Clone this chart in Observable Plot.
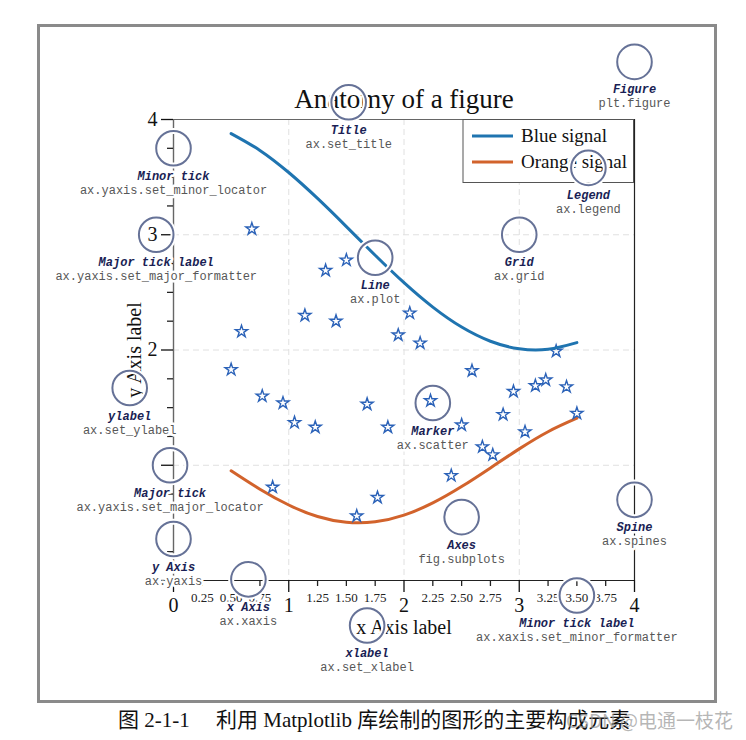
<!DOCTYPE html>
<html>
<head>
<meta charset="utf-8">
<script src="https://cdn.jsdelivr.net/npm/d3@7"></script>
<script src="https://cdn.jsdelivr.net/npm/@observablehq/plot@0.6"></script>
<style>
  html, body { margin: 0; padding: 0; background: #fff; }
  #wrap { position: relative; width: 746px; height: 740px; overflow: hidden; }
  #border { position: absolute; left: 37px; top: 24px; width: 674px; height: 673px; border: 3px solid #8a8a8a; }
  #chart { position: absolute; left: 0; top: 0; }
  #caption { position: absolute; left: 118px; top: 706px; line-height: 28px; font-size: 21px;
             font-family: "Liberation Serif", "Noto Sans CJK SC", serif; color: #111; white-space: nowrap; }
  #mark { position: absolute; left: 566px; top: 706px; line-height: 28px; font-size: 19px;
          font-family: "Noto Sans CJK SC", sans-serif; color: rgba(150,150,150,0.7); white-space: nowrap; }
</style>
</head>
<body>
<div id="wrap">
  <div id="border"></div>
  <div id="chart"></div>
  <div id="caption"></div>
  <div id="mark"></div>
</div>
<script>
// ---- data ----
const titleText = "Anatomy of a figure";
const xLabelText = "x Axis label";
const yLabelText = "y Axis label";
const seriesNames = ["Blue signal", "Orange signal"];
const seriesColors = ["#1f74b0", "#d2632c"];

const lineX = [0.5, 0.75, 1.0, 1.25, 1.5, 1.75, 2.0, 2.25, 2.5, 2.75, 3.0, 3.25, 3.5];
const blueY = [3.878, 3.732, 3.540, 3.315, 3.071, 2.822, 2.584, 2.372, 2.199, 2.076, 2.010, 2.006, 2.064];
const orangeY = [0.952, 0.792, 0.655, 0.555, 0.505, 0.509, 0.567, 0.673, 0.815, 0.977, 1.142, 1.291, 1.408];

const starX = [0.50, 0.59, 0.68, 0.77, 0.86, 0.95, 1.05, 1.14, 1.23, 1.32, 1.41, 1.50, 1.59, 1.68, 1.77, 1.86, 1.95,
               2.05, 2.14, 2.23, 2.41, 2.50, 2.59, 2.68, 2.77, 2.86, 2.95, 3.05, 3.14, 3.23, 3.32, 3.41, 3.50];
const starY = [1.83, 2.16, 3.05, 1.60, 0.81, 1.54, 1.37, 2.30, 1.33, 2.69, 2.25, 2.78, 0.56, 1.53, 0.72, 1.33, 2.13,
               2.32, 2.06, 1.56, 0.91, 1.35, 1.82, 1.16, 1.09, 1.44, 1.64, 1.29, 1.69, 1.74, 1.99, 1.68, 1.45];

const xMajorTicks = [0, 1, 2, 3, 4];
const xMinorTicks = [0.25, 0.5, 0.75, 1.25, 1.5, 1.75, 2.25, 2.5, 2.75, 3.25, 3.5, 3.75];
const yMajorTicks = [0, 1, 2, 3, 4];
const yMajorLabels = [2, 3, 4];
const yMinorTicks = [0.25, 0.5, 0.75, 1.25, 1.5, 1.75, 2.25, 2.5, 2.75, 3.25, 3.5, 3.75];
const gridTicks = [1, 2, 3];

const annX = [3.5, -0.03, 0.00, -0.15, 1.68, -0.38, 1.52, 1.75, 2.25, 3.00, 3.60, 2.5, 4.0, 0.65, 0.0, 4.0];
const annY = [-0.13, 1.0, 3.75, 3.00, -0.39, 1.67, 4.15, 2.80, 1.54, 3.00, 3.58, 0.55, 4.5, 0.01, 0.36, 0.7];
const annLabel = ["Minor tick label", "Major tick", "Minor tick", "Major tick label", "xlabel", "ylabel", "Title",
                  "Line", "Marker", "Grid", "Legend", "Axes", "Figure", "x Axis", "y Axis", "Spine"];
const annCode = ["ax.xaxis.set_minor_formatter", "ax.yaxis.set_major_locator", "ax.yaxis.set_minor_locator",
                 "ax.yaxis.set_major_formatter", "ax.set_xlabel", "ax.set_ylabel", "ax.set_title", "ax.plot",
                 "ax.scatter", "ax.grid", "ax.legend", "fig.subplots", "plt.figure", "ax.xaxis", "ax.yaxis", "ax.spines"];

const captionText = "图 2-1-1\u3000 利用 Matplotlib 库绘制的图形的主要构成元素";
const watermarkText = "CSDN @电通一枝花";

// ---- tables ----
const blueData = lineX.map((x, i) => ({x, y: blueY[i]}));
const orangeData = lineX.map((x, i) => ({x, y: orangeY[i]}));
const stars = starX.map((x, i) => ({x, y: starY[i]}));
const anns = annX.map((x, i) => ({x, y: annY[i], label: annLabel[i], code: annCode[i]}));

const serif = "Liberation Serif";
const mono = "Liberation Mono";
const circleColor = "#667297";
const labelColor = "#1a1f55";
const codeColor = "#575757";

function legendMark(index, scales, values, dim) {
  const right = dim.width - dim.marginRight;
  const top = dim.marginTop;
  const w = 171, h = 63, left = right - w;
  const g = d3.create("svg:g");
  g.append("rect").attr("x", left).attr("y", top + 0.5).attr("width", w - 0.5).attr("height", h)
    .attr("fill", "white").attr("stroke", "#555").attr("stroke-width", 1);
  seriesNames.forEach((name, i) => {
    const cy = top + 17 + i * 26;
    g.append("line").attr("x1", left + 9).attr("x2", left + 50).attr("y1", cy).attr("y2", cy)
      .attr("stroke", seriesColors[i]).attr("stroke-width", 3);
    g.append("text").attr("x", left + 58).attr("y", cy + 5.5).text(name)
      .attr("text-anchor", "start")
      .attr("font-family", serif).attr("font-size", 19).attr("fill", "#111");
  });
  return g.node();
}

const chart = Plot.plot({
  width: 746,
  height: 706,
  marginLeft: 173,
  marginRight: 112,
  marginTop: 119,
  marginBottom: 126,
  x: {domain: [0, 4]},
  y: {domain: [0, 4]},
  style: {background: "transparent", fontFamily: serif, color: "#111"},
  marks: [
    Plot.gridX(gridTicks, {stroke: "#e0e0e0", strokeOpacity: 1, strokeDasharray: "6,4", strokeWidth: 1}),
    Plot.gridY(gridTicks, {stroke: "#e0e0e0", strokeOpacity: 1, strokeDasharray: "6,4", strokeWidth: 1}),
    Plot.line(orangeData, {x: "x", y: "y", stroke: seriesColors[1], strokeWidth: 3, curve: "natural"}),
    Plot.dot(stars, {x: "x", y: "y", symbol: "star", r: 3.8, fill: "none", stroke: "#2b62b8", strokeWidth: 1.4}),
    // spines
    Plot.ruleY([4], {stroke: "#666", strokeWidth: 1.2}),
    Plot.ruleX([0], {stroke: "#666", strokeWidth: 1.4}),
    Plot.ruleX([4], {stroke: "#222", strokeWidth: 1.2}),
    Plot.ruleY([0], {stroke: "#222", strokeWidth: 1.2}),
    // axes
    Plot.axisX(xMajorTicks, {anchor: "bottom", tickSize: 12, tickPadding: 5, fontSize: 20, strokeWidth: 1.3,
      tickFormat: d => String(d), label: null, color: "#111"}),
    Plot.axisX(xMinorTicks, {anchor: "bottom", tickSize: 6, tickPadding: 6, fontSize: 13, strokeWidth: 1.3,
      tickFormat: d3.format(".2f"), label: null, color: "#222"}),
    Plot.axisY(yMajorTicks, {anchor: "left", tickSize: 12, tickPadding: 4, fontSize: 20, strokeWidth: 1.3,
      tickFormat: d => yMajorLabels.includes(d) ? String(d) : "", label: null, color: "#111"}),
    Plot.axisY(yMinorTicks, {anchor: "left", tickSize: 6, strokeWidth: 1.3, tickFormat: () => "", label: null, color: "#222"}),
    // titles
    Plot.text([titleText], {text: d => d, frameAnchor: "top", dy: -12, lineAnchor: "bottom", fontSize: 27, fontFamily: serif, fill: "#111"}),
    Plot.text([xLabelText], {text: d => d, frameAnchor: "bottom", dy: 53, lineAnchor: "bottom", fontSize: 20, fontFamily: serif, fill: "#111"}),
    Plot.text([yLabelText], {text: d => d, frameAnchor: "left", dx: -33, rotate: -90, textAnchor: "middle", lineAnchor: "bottom", fontSize: 20, fontFamily: serif, fill: "#111"}),
    legendMark,
    Plot.line(blueData, {x: "x", y: "y", stroke: seriesColors[0], strokeWidth: 3, curve: "natural"}),
    // annotation circles
    Plot.dot(anns, {x: "x", y: "y", r: 17.3, fill: "none", stroke: "white", strokeWidth: 6}),
    Plot.dot(anns, {x: "x", y: "y", r: 17.3, fill: "none", stroke: circleColor, strokeWidth: 2}),
    // annotation text halos
    Plot.text(anns, {x: "x", y: "y", text: "label", dy: 23, lineAnchor: "top", fontFamily: mono, fontWeight: "bold",
      fontStyle: "italic", fontSize: 12, fill: "white", stroke: "white", strokeWidth: 5}),
    Plot.text(anns, {x: "x", y: "y", text: "code", dy: 37, lineAnchor: "top", fontFamily: mono,
      fontSize: 12, fill: "white", stroke: "white", strokeWidth: 5}),
    // annotation texts
    Plot.text(anns, {x: "x", y: "y", text: "label", dy: 23, lineAnchor: "top", fontFamily: mono, fontWeight: "bold",
      fontStyle: "italic", fontSize: 12, fill: labelColor}),
    Plot.text(anns, {x: "x", y: "y", text: "code", dy: 37, lineAnchor: "top", fontFamily: mono,
      fontSize: 12, fill: codeColor})
  ]
});
document.getElementById("chart").appendChild(chart);
document.getElementById("caption").textContent = captionText;
document.getElementById("mark").textContent = watermarkText;
</script>
</body>
</html>
